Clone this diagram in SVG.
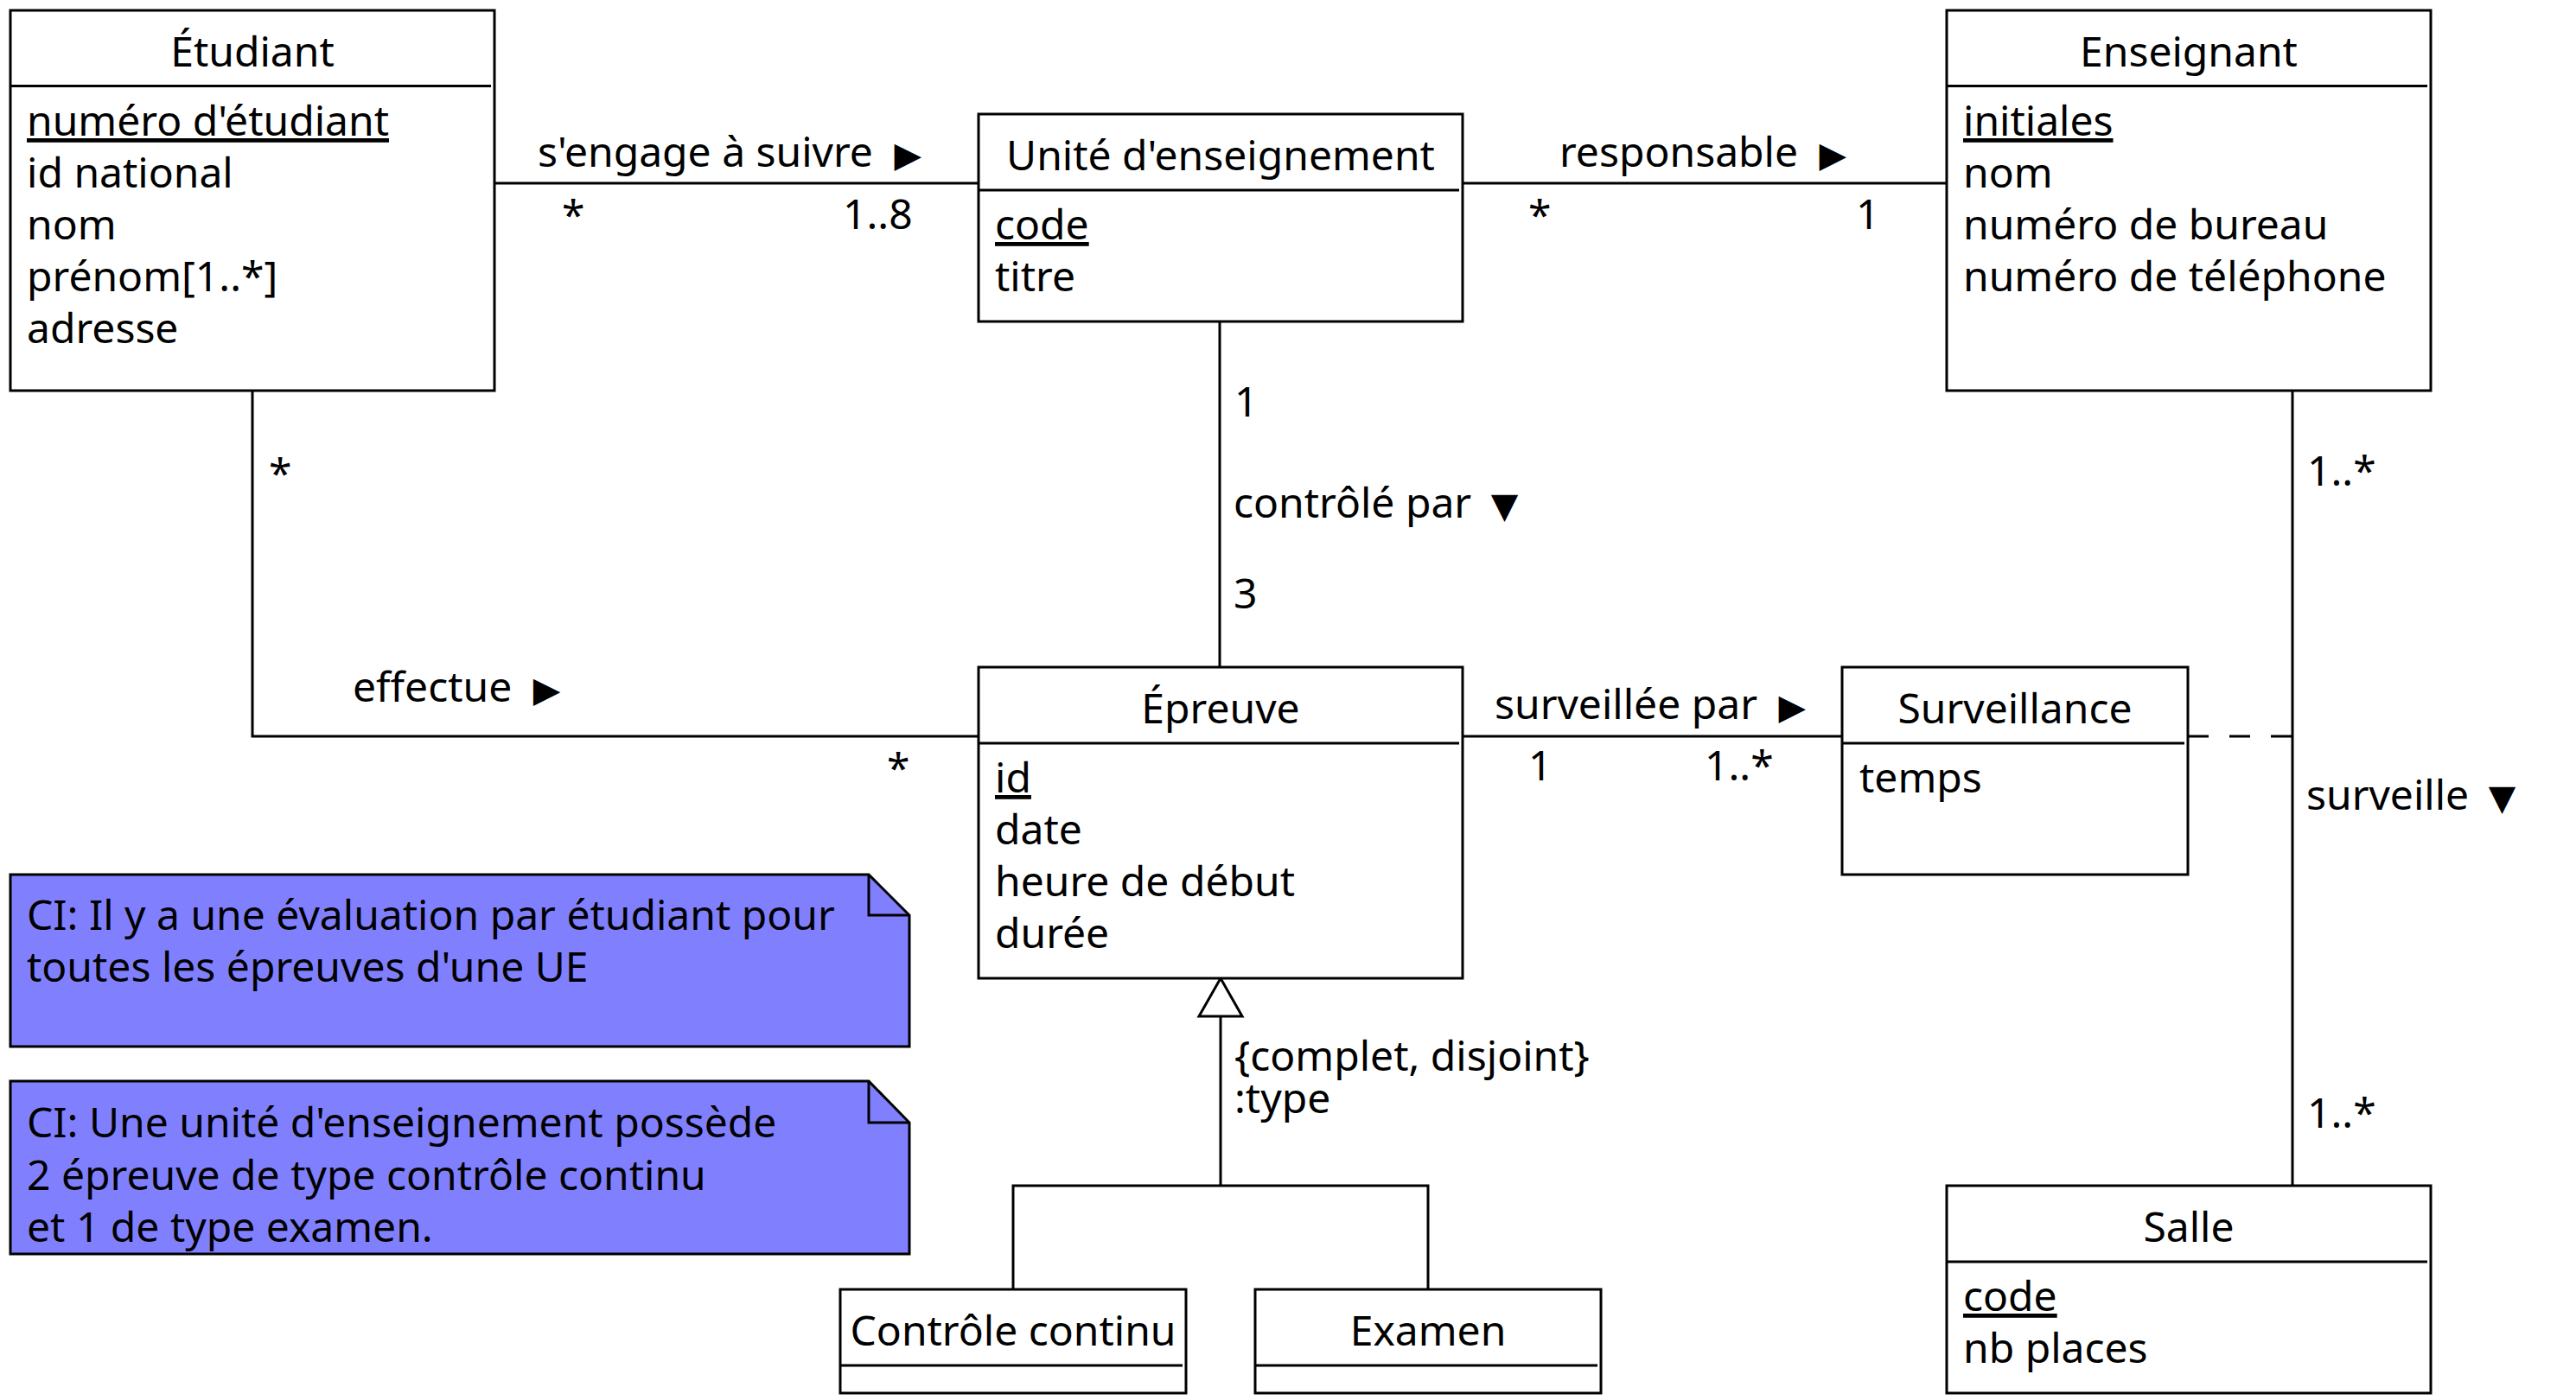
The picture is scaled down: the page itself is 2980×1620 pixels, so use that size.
<svg xmlns="http://www.w3.org/2000/svg" width="2980" height="1620" viewBox="0 0 2980 1620">
<style>
  .box { fill: #ffffff; stroke: #000000; stroke-width: 3; }
  .sep { stroke: #000000; stroke-width: 3; fill: none; }
  .note { fill: #8080ff; stroke: #000000; stroke-width: 3; }
  .line { stroke: #000000; stroke-width: 3; fill: none; }
  .dash { stroke: #000000; stroke-width: 3; fill: none; stroke-dasharray: 24 24; }
  text { font-family: "Noto Sans", "Open Sans", sans-serif; font-size: 48px; fill: #000000; }
  .title { text-anchor: middle; }
  .u { text-decoration: underline; }
  .tri { font-family: "DejaVu Sans", sans-serif; font-size: 41px; }
</style>
<rect x="0" y="0" width="2980" height="1620" fill="#ffffff"/>

<g id="connectors">
  <line class="line" x1="572" y1="212" x2="1132" y2="212"/>
  <line class="line" x1="1692" y1="212" x2="2252" y2="212"/>
  <line class="line" x1="1411" y1="372" x2="1411" y2="772"/>
  <polyline class="line" points="292,452 292,852 1132,852"/>
  <line class="line" x1="1692" y1="852" x2="2131" y2="852"/>
  <line class="line" x1="2652" y1="452" x2="2652" y2="1372"/>
  <line class="dash" x1="2531" y1="852" x2="2652" y2="852"/>
  <polyline class="line" points="1172,1492 1172,1372 1652,1372 1652,1492"/>
  <line class="line" x1="1412" y1="1372" x2="1412" y2="1176"/>
  <polygon class="box" points="1412,1132 1437,1176 1387,1176"/>

  <text x="622" y="193">s'engage à suivre <tspan class="tri" dx="12">▶</tspan></text>
  <text x="650" y="266">*</text>
  <text x="975" y="265">1..8</text>
  <text x="1804" y="193">responsable <tspan class="tri" dx="12">▶</tspan></text>
  <text x="1768" y="266">*</text>
  <text x="2147" y="265">1</text>
  <text x="1428" y="482">1</text>
  <text x="1427" y="599">contrôlé par <tspan class="tri" dx="10">▼</tspan></text>
  <text x="1427" y="704">3</text>
  <text x="311" y="565">*</text>
  <text x="2669" y="562">1..*</text>
  <text x="408" y="812">effectue <tspan class="tri" dx="12">▶</tspan></text>
  <text x="1026" y="906">*</text>
  <text x="1729" y="832">surveillée par <tspan class="tri" dx="12">▶</tspan></text>
  <text x="1768" y="903">1</text>
  <text x="1972" y="903">1..*</text>
  <text x="2668" y="937">surveille <tspan class="tri" dx="10">▼</tspan></text>
  <text x="2669" y="1305">1..*</text>
  <text x="1428" y="1239">{complet, disjoint}</text>
  <text x="1428" y="1288">:type</text>
</g>

<g id="etudiant">
  <rect class="box" x="12" y="12" width="560" height="440"/>
  <line class="sep" x1="12" y1="99.5" x2="568" y2="99.5"/>
  <text class="title" x="292" y="77">Étudiant</text>
  <text class="u" x="31" y="157">numéro d'étudiant</text>
  <text x="31" y="217">id national</text>
  <text x="31" y="277">nom</text>
  <text x="31" y="337">prénom[1..*]</text>
  <text x="31" y="397">adresse</text>
</g>

<g id="unite-enseignement">
  <rect class="box" x="1132" y="132" width="560" height="240"/>
  <line class="sep" x1="1132" y1="220" x2="1688" y2="220"/>
  <text class="title" x="1412" y="197">Unité d'enseignement</text>
  <text class="u" x="1151" y="277">code</text>
  <text x="1151" y="337">titre</text>
</g>

<g id="enseignant">
  <rect class="box" x="2252" y="12" width="560" height="440"/>
  <line class="sep" x1="2252" y1="99.5" x2="2808" y2="99.5"/>
  <text class="title" x="2532" y="77">Enseignant</text>
  <text class="u" x="2271" y="157">initiales</text>
  <text x="2271" y="217">nom</text>
  <text x="2271" y="277">numéro de bureau</text>
  <text x="2271" y="337">numéro de téléphone</text>
</g>

<g id="epreuve">
  <rect class="box" x="1132" y="772" width="560" height="360"/>
  <line class="sep" x1="1132" y1="860" x2="1688" y2="860"/>
  <text class="title" x="1412" y="837">Épreuve</text>
  <text class="u" x="1151" y="917">id</text>
  <text x="1151" y="977">date</text>
  <text x="1151" y="1037">heure de début</text>
  <text x="1151" y="1097">durée</text>
</g>

<g id="surveillance">
  <rect class="box" x="2131" y="772" width="400" height="240"/>
  <line class="sep" x1="2131" y1="860" x2="2527" y2="860"/>
  <text class="title" x="2331" y="837">Surveillance</text>
  <text x="2151" y="917">temps</text>
</g>

<g id="salle">
  <rect class="box" x="2252" y="1372" width="560" height="240"/>
  <line class="sep" x1="2252" y1="1460" x2="2808" y2="1460"/>
  <text class="title" x="2532" y="1437">Salle</text>
  <text class="u" x="2271" y="1517">code</text>
  <text x="2271" y="1577">nb places</text>
</g>

<g id="controle-continu">
  <rect class="box" x="972" y="1492" width="400" height="120"/>
  <line class="sep" x1="972" y1="1580" x2="1368" y2="1580"/>
  <text class="title" x="1172" y="1557">Contrôle continu</text>
</g>

<g id="examen">
  <rect class="box" x="1452" y="1492" width="400" height="120"/>
  <line class="sep" x1="1452" y1="1580" x2="1848" y2="1580"/>
  <text class="title" x="1652" y="1557">Examen</text>
</g>

<g id="note-1">
  <polygon class="note" points="12,1012 1005,1012 1052,1059 1052,1211 12,1211"/>
  <polyline class="sep" points="1005,1012 1005,1059 1052,1059"/>
  <text x="31" y="1076">CI: Il y a une évaluation par étudiant pour</text>
  <text x="31" y="1136">toutes les épreuves d'une UE</text>
</g>

<g id="note-2">
  <polygon class="note" points="12,1251 1005,1251 1052,1299 1052,1451 12,1451"/>
  <polyline class="sep" points="1005,1251 1005,1299 1052,1299"/>
  <text x="31" y="1316">CI: Une unité d'enseignement possède</text>
  <text x="31" y="1377">2 épreuve de type contrôle continu</text>
  <text x="31" y="1437">et 1 de type examen.</text>
</g>
</svg>
